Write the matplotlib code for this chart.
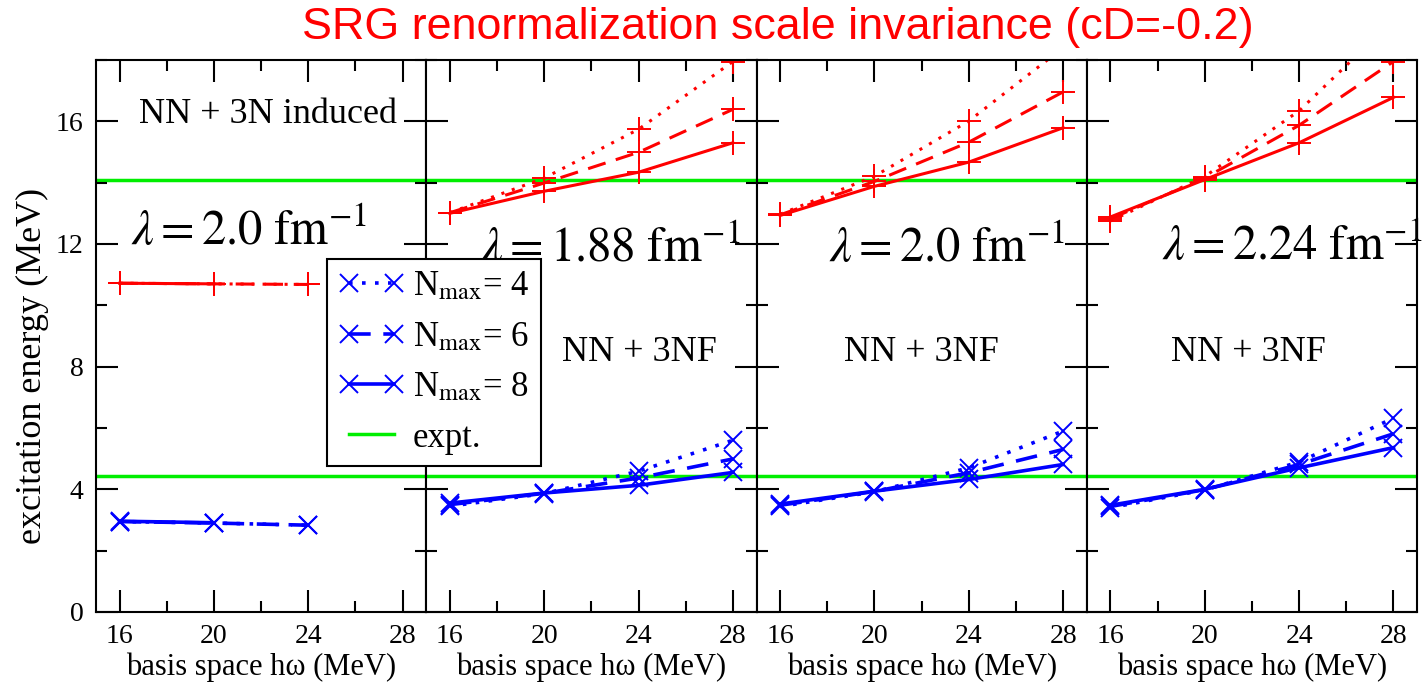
import matplotlib
matplotlib.use("Agg")
import matplotlib.pyplot as plt
from matplotlib.lines import Line2D
from matplotlib.ticker import MultipleLocator

plt.rcParams['font.family'] = ['Liberation Serif', 'DejaVu Serif']
plt.rcParams['mathtext.fontset'] = 'stix'

# basis space h-omega values (MeV)
hw = [16, 20, 24, 28]
hw_ind = [16, 20, 24]
hw_ind8 = [16, 20]

# experimental excitation energies
expt = [4.44, 14.08]

# NN + 3N induced, lambda = 2.0 fm^-1
ind_red_4 = [10.72, 10.70, 10.68]
ind_red_6 = [10.72, 10.70, 10.68]
ind_red_8 = [10.72, 10.70]
ind_blue_4 = [2.95, 2.90, 2.83]
ind_blue_6 = [2.95, 2.90, 2.83]
ind_blue_8 = [2.96, 2.91]

# NN + 3NF, lambda = 1.88 fm^-1
l188_red_4 = [13.02, 14.15, 15.74, 17.95]
l188_red_6 = [13.02, 13.99, 14.99, 16.39]
l188_red_8 = [13.00, 13.72, 14.34, 15.30]
l188_blue_4 = [3.45, 3.86, 4.59, 5.60]
l188_blue_6 = [3.50, 3.87, 4.37, 4.99]
l188_blue_8 = [3.55, 3.88, 4.13, 4.55]

# NN + 3NF, lambda = 2.0 fm^-1
l200_red_4 = [12.97, 14.21, 16.01, 18.40]
l200_red_6 = [12.95, 14.04, 15.32, 16.96]
l200_red_8 = [12.93, 13.88, 14.67, 15.79]
l200_blue_4 = [3.44, 3.92, 4.70, 5.90]
l200_blue_6 = [3.48, 3.93, 4.54, 5.30]
l200_blue_8 = [3.52, 3.94, 4.32, 4.81]

# NN + 3NF, lambda = 2.24 fm^-1
l224_red_4 = [12.75, 14.20, 16.34, 19.30]
l224_red_6 = [12.82, 14.15, 15.87, 17.95]
l224_red_8 = [12.88, 14.10, 15.30, 16.78]
l224_blue_4 = [3.40, 3.98, 4.89, 6.32]
l224_blue_6 = [3.44, 3.99, 4.81, 5.81]
l224_blue_8 = [3.48, 4.00, 4.70, 5.36]

lam_labels = [r'$\lambda = 2.0\ \mathrm{fm}^{-1}$',
              r'$\lambda = 1.88\ \mathrm{fm}^{-1}$',
              r'$\lambda = 2.0\ \mathrm{fm}^{-1}$',
              r'$\lambda = 2.24\ \mathrm{fm}^{-1}$']
force_labels = ['NN + 3N induced', 'NN + 3NF', 'NN + 3NF', 'NN + 3NF']

dotted = (0, (1, 2.6))
dashed = (0, (6, 3.5))
styles = [dotted, dashed, '-']

panels = [
    ([hw_ind, hw_ind, hw_ind8], [ind_red_4, ind_red_6, ind_red_8], [ind_blue_4, ind_blue_6, ind_blue_8]),
    ([hw, hw, hw], [l188_red_4, l188_red_6, l188_red_8], [l188_blue_4, l188_blue_6, l188_blue_8]),
    ([hw, hw, hw], [l200_red_4, l200_red_6, l200_red_8], [l200_blue_4, l200_blue_6, l200_blue_8]),
    ([hw, hw, hw], [l224_red_4, l224_red_6, l224_red_8], [l224_blue_4, l224_blue_6, l224_blue_8]),
]

# text positions in data coords
lam_pos = [(21.49, 11.97, 'center'), (22.8, 11.41, 'center'), (23.09, 11.4, 'center'), (18.2, 11.48, 'left')]
force_pos = [(22.3, 16.23), (24.04, 8.46), (22.0, 8.46), (21.84, 8.46)]

green = '#00ee00'

fig, axes = plt.subplots(1, 4, sharey=True, figsize=(14.22, 6.84), dpi=100)
fig.subplots_adjust(left=0.0675, right=0.9965, top=0.9123, bottom=0.1053, wspace=0)

for i, ax in enumerate(axes):
    xs, reds, blues = panels[i]
    for e in expt:
        ax.axhline(e, color=green, lw=2.5, zorder=1)
    for x, r, ls in zip(xs, reds, styles):
        ax.plot(x, r, color='red', ls=ls, lw=2.2, marker='+', ms=17, mew=1.4)
    for x, b, ls in zip(xs, blues, styles):
        ax.plot(x, b, color='blue', ls=ls, lw=2.6, marker='x', ms=13, mew=1.4)

    ax.set_xlim(15, 29)
    ax.set_ylim(0, 18)
    ax.xaxis.set_major_locator(MultipleLocator(4))
    ax.xaxis.set_minor_locator(MultipleLocator(2))
    ax.yaxis.set_major_locator(MultipleLocator(4))
    ax.yaxis.set_minor_locator(MultipleLocator(2))
    ax.tick_params(which='both', direction='in', top=True, right=True, width=1.5,
                   labelsize=20, pad=9)
    ax.tick_params(which='major', length=16)
    ax.tick_params(which='minor', length=8)
    for sp in ax.spines.values():
        sp.set_linewidth(1.5)
    ax.set_xlabel('basis space h\u03c9 (MeV)', fontsize=22, labelpad=2)

    lx, ly, ha = lam_pos[i]
    ax.text(lx, ly, lam_labels[i], fontsize=35, ha=ha, va='baseline', clip_on=False)
    fx, fy = force_pos[i]
    ax.text(fx, fy, force_labels[i], fontsize=26, ha='center', va='center')

fig.text(32 / 1422, 1 - 366 / 684, 'excitation energy (MeV)', rotation=90,
         fontsize=26, ha='center', va='center')

fig.text(778 / 1422, 1 - 28 / 684, 'SRG renormalization scale invariance (cD=-0.2)',
         color='red', fontsize=32.3, family='Liberation Sans', ha='center', va='center')

handles = [Line2D([], [], color='blue', ls=ls, lw=2.6, marker='x', ms=13, mew=1.4)
           for ls in styles]
handles.append(Line2D([], [], color=green, lw=2.5))
labels = [r'N$_{\mathrm{max}}$= 4', r'N$_{\mathrm{max}}$= 6', r'N$_{\mathrm{max}}$= 8', 'expt.']
leg = fig.legend(handles, labels, loc='upper left',
                 bbox_to_anchor=(327 / 1422, 1 - 259 / 684), borderaxespad=0,
                 numpoints=2, handlelength=1.9, handletextpad=0.25, fontsize=25,
                 labelspacing=0.5, borderpad=0.33, fancybox=False, framealpha=1,
                 edgecolor='black')
leg.get_frame().set_linewidth(1.5)

fig.savefig('out.png', dpi=100)
